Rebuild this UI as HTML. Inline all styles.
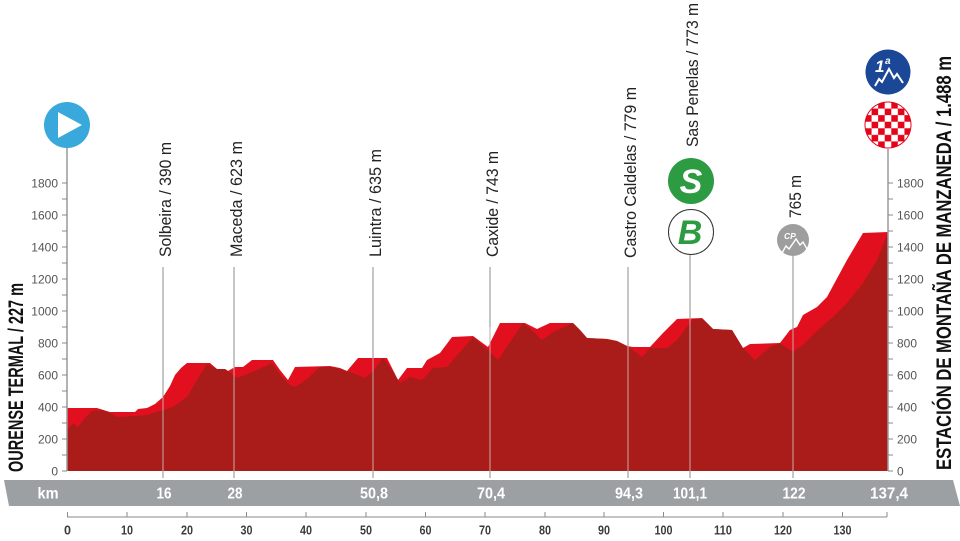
<!DOCTYPE html>
<html>
<head>
<meta charset="utf-8">
<style>
html,body{margin:0;padding:0;background:#fff;}
svg{display:block;}
text{font-family:"Liberation Sans",sans-serif;}
</style>
</head>
<body>
<svg width="960" height="541" viewBox="0 0 960 541" xmlns="http://www.w3.org/2000/svg">
<defs>
<pattern id="chk" x="865" y="102" width="13.14" height="13.14" patternUnits="userSpaceOnUse">
<rect x="0" y="0" width="13.14" height="13.14" fill="#fff"/>
<rect x="0" y="0" width="6.57" height="6.57" fill="#e3061a"/>
<rect x="6.57" y="6.57" width="6.57" height="6.57" fill="#e3061a"/>
</pattern>
</defs>
<rect width="960" height="541" fill="#fff"/>

<!-- marker vertical lines (above profile) -->
<g stroke="#8e8e8e" stroke-width="1">
<line x1="163" y1="267" x2="163" y2="478"/>
<line x1="234" y1="267" x2="234" y2="478"/>
<line x1="373" y1="267" x2="373" y2="478"/>
<line x1="490" y1="267" x2="490" y2="478"/>
<line x1="628" y1="267" x2="628" y2="478"/>
<line x1="690" y1="255" x2="690" y2="478"/>
<line x1="793" y1="256" x2="793" y2="478"/>
</g>

<!-- profile bright (top surface) -->
<polygon fill="#e2101e" points="67,471 67,408 97,408 110,412 135,412 138,409 147,408 155,404 163,397 170,386 175,375 181,368 187,363 210,363 217,369 225,369 228,371 235,367 243,367 252,360 273,360 280,370 288,380 295,367 330,366 340,368 347,371 358,358 387,358 392,368 398,380 407,368 422,368 427,360 440,353 452,337 473,336 488,347 500,323 525,323 537,329 550,323 573,323 580,330 587,338 607,339 617,341 627,346 633,347 650,347 663,333 677,319 702,318 713,329 732,330 743,348 750,344 780,343 790,330 797,327 803,315 817,307 827,297 847,260 863,233 888,232 888,471"/>
<!-- profile dark (front face) -->
<polygon fill="#a91c19" points="67,471 67,430 73,423 78,427 85,418 92,411 102,410 110,413 118,417 135,416 147,415 160,411 173,407 187,397 197,380 207,364 217,369 225,369 228,371 237,378 250,373 257,370 272,363 282,377 290,385 295,387 307,379 320,367 333,367 350,372 365,378 372,372 383,358 392,370 400,383 410,377 422,380 433,368 447,367 460,352 473,337 490,352 498,360 510,342 523,323 532,330 542,340 553,332 573,323 580,330 587,338 607,339 617,341 627,346 633,350 642,357 650,348 667,348 677,340 693,319 703,319 713,329 732,330 743,348 755,360 770,347 780,343 793,352 803,345 820,328 833,317 847,303 863,283 877,260 888,233 888,471"/>

<!-- marker lines through profile (lighter) -->
<g stroke="#c7a9a9" stroke-width="1">
<line x1="163" y1="397" x2="163" y2="471"/>
<line x1="234" y1="367" x2="234" y2="471"/>
<line x1="373" y1="358" x2="373" y2="471"/>
<line x1="490" y1="327" x2="490" y2="471"/>
<line x1="628" y1="346" x2="628" y2="471"/>
<line x1="690" y1="318" x2="690" y2="471"/>
<line x1="793" y1="329" x2="793" y2="471"/>
</g>

<!-- left axis -->
<line x1="67" y1="148" x2="67" y2="471" stroke="#9a9a9a" stroke-width="1.5"/>
<g stroke="#8a8a8a" stroke-width="1">
<line x1="62" y1="471" x2="67" y2="471"/><line x1="62" y1="455" x2="67" y2="455"/>
<line x1="62" y1="439" x2="67" y2="439"/><line x1="62" y1="423" x2="67" y2="423"/>
<line x1="62" y1="407" x2="67" y2="407"/><line x1="62" y1="391" x2="67" y2="391"/>
<line x1="62" y1="375" x2="67" y2="375"/><line x1="62" y1="359" x2="67" y2="359"/>
<line x1="62" y1="343" x2="67" y2="343"/><line x1="62" y1="327" x2="67" y2="327"/>
<line x1="62" y1="311" x2="67" y2="311"/><line x1="62" y1="295" x2="67" y2="295"/>
<line x1="62" y1="279" x2="67" y2="279"/><line x1="62" y1="263" x2="67" y2="263"/>
<line x1="62" y1="247" x2="67" y2="247"/><line x1="62" y1="231" x2="67" y2="231"/>
<line x1="62" y1="215" x2="67" y2="215"/><line x1="62" y1="199" x2="67" y2="199"/>
<line x1="62" y1="183" x2="67" y2="183"/>
</g>
<g font-size="12" fill="#555" text-anchor="end">
<text x="58" y="475.5">0</text><text x="58" y="443.5">200</text><text x="58" y="411.5">400</text>
<text x="58" y="379.5">600</text><text x="58" y="347.5">800</text><text x="58" y="315.5">1000</text>
<text x="58" y="283.5">1200</text><text x="58" y="251.5">1400</text><text x="58" y="219.5">1600</text>
<text x="58" y="187.5">1800</text>
</g>

<!-- right axis -->
<line x1="888" y1="149" x2="888" y2="471" stroke="#9a9a9a" stroke-width="1.5"/>
<g stroke="#8a8a8a" stroke-width="1">
<line x1="888" y1="471" x2="893" y2="471"/><line x1="888" y1="455" x2="893" y2="455"/>
<line x1="888" y1="439" x2="893" y2="439"/><line x1="888" y1="423" x2="893" y2="423"/>
<line x1="888" y1="407" x2="893" y2="407"/><line x1="888" y1="391" x2="893" y2="391"/>
<line x1="888" y1="375" x2="893" y2="375"/><line x1="888" y1="359" x2="893" y2="359"/>
<line x1="888" y1="343" x2="893" y2="343"/><line x1="888" y1="327" x2="893" y2="327"/>
<line x1="888" y1="311" x2="893" y2="311"/><line x1="888" y1="295" x2="893" y2="295"/>
<line x1="888" y1="279" x2="893" y2="279"/><line x1="888" y1="263" x2="893" y2="263"/>
<line x1="888" y1="247" x2="893" y2="247"/><line x1="888" y1="231" x2="893" y2="231"/>
<line x1="888" y1="215" x2="893" y2="215"/><line x1="888" y1="199" x2="893" y2="199"/>
<line x1="888" y1="183" x2="893" y2="183"/>
</g>
<g font-size="12" fill="#555" text-anchor="start">
<text x="897" y="475.5">0</text><text x="897" y="443.5">200</text><text x="897" y="411.5">400</text>
<text x="897" y="379.5">600</text><text x="897" y="347.5">800</text><text x="897" y="315.5">1000</text>
<text x="897" y="283.5">1200</text><text x="897" y="251.5">1400</text><text x="897" y="219.5">1600</text>
<text x="897" y="187.5">1800</text>
</g>

<!-- marker labels -->
<g font-size="16.5" fill="#222">
<text transform="translate(171,257) rotate(-90)" textLength="115" lengthAdjust="spacingAndGlyphs">Solbeira / 390 m</text>
<text transform="translate(242,257) rotate(-90)" textLength="116" lengthAdjust="spacingAndGlyphs">Maceda / 623 m</text>
<text transform="translate(381,257) rotate(-90)" textLength="108" lengthAdjust="spacingAndGlyphs">Luintra / 635 m</text>
<text transform="translate(498,257) rotate(-90)" textLength="106" lengthAdjust="spacingAndGlyphs">Caxide / 743 m</text>
<text transform="translate(636,258) rotate(-90)" textLength="171" lengthAdjust="spacingAndGlyphs">Castro Caldelas / 779 m</text>
<text transform="translate(698,147) rotate(-90)" textLength="144" lengthAdjust="spacingAndGlyphs">Sas Penelas / 773 m</text>
<text transform="translate(801,218) rotate(-90)" textLength="43" lengthAdjust="spacingAndGlyphs">765 m</text>
</g>

<!-- start icon -->
<circle cx="67" cy="125" r="23" fill="#39a9dc"/>
<polygon points="58,112 58,138 82,125" fill="#fff"/>

<!-- sprint S -->
<circle cx="691" cy="181" r="23" fill="#2d9b41"/>
<text x="691" y="193" font-size="34" font-weight="bold" font-style="italic" fill="#fff" text-anchor="middle">S</text>
<!-- bonus B -->
<circle cx="691" cy="232" r="22.5" fill="#fff" stroke="#333" stroke-width="1"/>
<text x="690" y="244" font-size="34" font-weight="bold" font-style="italic" fill="#2d9b41" text-anchor="middle">B</text>

<!-- CP icon -->
<circle cx="793" cy="240" r="16" fill="#9e9e9e"/>
<text x="784" y="239" font-size="8.5" font-weight="bold" font-style="italic" fill="#fff">CP</text>
<polyline points="782,253 786,246 789,249 796,239 800,245 803,242 807,249" fill="none" stroke="#fff" stroke-width="1.4"/>

<!-- 1a category -->
<circle cx="888" cy="72" r="22.5" fill="#1b4896"/>
<text x="875" y="72" font-size="17" font-weight="bold" font-style="italic" fill="#fff">1</text>
<text x="885" y="64" font-size="10" font-weight="bold" font-style="italic" fill="#fff">a</text>
<polyline points="875,86 879,79 882,82 889,69 894,78 897,74 903,83" fill="none" stroke="#fff" stroke-width="2"/>

<!-- finish checkered -->
<circle cx="888" cy="125" r="23" fill="url(#chk)" stroke="#e3061a" stroke-width="1"/>

<!-- big titles -->
<text transform="translate(23,472) rotate(-90)" font-size="21" font-weight="bold" fill="#111" textLength="189" lengthAdjust="spacingAndGlyphs">OURENSE TERMAL / 227 m</text>
<text transform="translate(951,470) rotate(-90)" font-size="21" font-weight="bold" fill="#111" textLength="414" lengthAdjust="spacingAndGlyphs">ESTACIÓN DE MONTAÑA DE MANZANEDA / 1.488 m</text>

<!-- km bar -->
<polygon points="4,480 953,480 960,506 9,506" fill="#9da0a3"/>
<g font-size="16" font-weight="bold" fill="#fff" text-anchor="middle">
<text x="48" y="498.5" textLength="21" lengthAdjust="spacingAndGlyphs">km</text>
<text x="164" y="498.5" textLength="15" lengthAdjust="spacingAndGlyphs">16</text>
<text x="235" y="498.5" textLength="15" lengthAdjust="spacingAndGlyphs">28</text>
<text x="374" y="498.5" textLength="28" lengthAdjust="spacingAndGlyphs">50,8</text>
<text x="491" y="498.5" textLength="28" lengthAdjust="spacingAndGlyphs">70,4</text>
<text x="629" y="498.5" textLength="28" lengthAdjust="spacingAndGlyphs">94,3</text>
<text x="690" y="498.5" textLength="34" lengthAdjust="spacingAndGlyphs">101,1</text>
<text x="794" y="498.5" textLength="23" lengthAdjust="spacingAndGlyphs">122</text>
<text x="889" y="498.5" textLength="38" lengthAdjust="spacingAndGlyphs">137,4</text>
</g>

<!-- bottom km axis -->
<line x1="67" y1="517" x2="887" y2="517" stroke="#8a8a8a" stroke-width="1"/>
<g stroke="#8a8a8a" stroke-width="1">
<line x1="67.5" y1="512" x2="67.5" y2="517"/><line x1="127" y1="512" x2="127" y2="517"/>
<line x1="187" y1="512" x2="187" y2="517"/><line x1="246.5" y1="512" x2="246.5" y2="517"/>
<line x1="306" y1="512" x2="306" y2="517"/><line x1="366" y1="512" x2="366" y2="517"/>
<line x1="425.5" y1="512" x2="425.5" y2="517"/><line x1="485" y1="512" x2="485" y2="517"/>
<line x1="545" y1="512" x2="545" y2="517"/><line x1="604" y1="512" x2="604" y2="517"/>
<line x1="663.5" y1="512" x2="663.5" y2="517"/><line x1="723" y1="512" x2="723" y2="517"/>
<line x1="783" y1="512" x2="783" y2="517"/><line x1="842.5" y1="512" x2="842.5" y2="517"/>
<line x1="887" y1="512" x2="887" y2="517"/>
</g>
<g font-size="13" font-weight="bold" fill="#3c3c3c" text-anchor="middle">
<text x="67.5" y="534.5" textLength="7" lengthAdjust="spacingAndGlyphs">0</text>
<text x="127" y="534.5" textLength="12" lengthAdjust="spacingAndGlyphs">10</text>
<text x="187" y="534.5" textLength="12" lengthAdjust="spacingAndGlyphs">20</text>
<text x="246.5" y="534.5" textLength="12" lengthAdjust="spacingAndGlyphs">30</text>
<text x="306" y="534.5" textLength="12" lengthAdjust="spacingAndGlyphs">40</text>
<text x="366" y="534.5" textLength="12" lengthAdjust="spacingAndGlyphs">50</text>
<text x="425.5" y="534.5" textLength="12" lengthAdjust="spacingAndGlyphs">60</text>
<text x="485" y="534.5" textLength="12" lengthAdjust="spacingAndGlyphs">70</text>
<text x="545" y="534.5" textLength="12" lengthAdjust="spacingAndGlyphs">80</text>
<text x="604" y="534.5" textLength="12" lengthAdjust="spacingAndGlyphs">90</text>
<text x="663.5" y="534.5" textLength="18" lengthAdjust="spacingAndGlyphs">100</text>
<text x="723" y="534.5" textLength="18" lengthAdjust="spacingAndGlyphs">110</text>
<text x="783" y="534.5" textLength="18" lengthAdjust="spacingAndGlyphs">120</text>
<text x="842.5" y="534.5" textLength="18" lengthAdjust="spacingAndGlyphs">130</text>
</g>
</svg>
</body>
</html>
